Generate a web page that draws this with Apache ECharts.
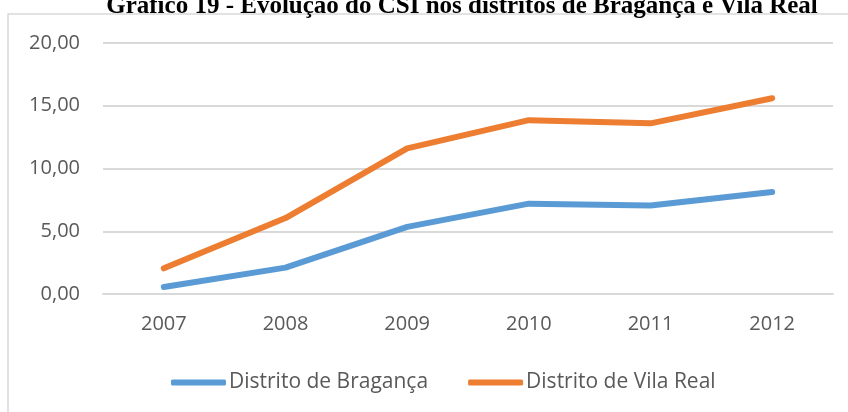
<!DOCTYPE html>
<html>
<head>
<meta charset="utf-8">
<script src="https://cdn.jsdelivr.net/npm/echarts@6/dist/echarts.min.js"></script>
<style>
  html, body { margin: 0; padding: 0; background: #fff; }
  #chart { width: 848px; height: 412px; }
</style>
</head>
<body>
<div id="chart"></div>
<script>
const years = ['2007', '2008', '2009', '2010', '2011', '2012']
const braganca = [0.56, 2.1, 5.35, 7.2, 7.05, 8.13]
const vilaReal = [2.05, 6.05, 11.6, 13.85, 13.6, 15.6]
const seriesNames = ['Distrito de Bragança', 'Distrito de Vila Real']

const chart = echarts.init(document.getElementById('chart'))

const font = '"Open Sans", sans-serif'

chart.setOption({
  animation: false,
  title: {
    text: 'Gráfico 19 - Evolução do CSI nos distritos de Bragança e Vila Real',
    left: 462,
    textAlign: 'center',
    top: -6,
    padding: 0,
    textStyle: { fontFamily: '"Liberation Serif", serif', fontWeight: 'bold', fontSize: 25, color: '#000' }
  },
  graphic: [
    {
      type: 'rect',
      shape: { x: 8, y: 14, width: 860, height: 420 },
      style: { fill: 'none', stroke: '#d9d9d9', lineWidth: 1.5 },
      silent: true,
      z: -1
    }
  ],
  legend: {
    data: seriesNames,
    left: 166,
    top: 367,
    itemWidth: 55,
    itemHeight: 6,
    itemGap: 40,
    icon: 'roundRect',
    textStyle: { fontFamily: font, fontSize: 21, color: '#595959', padding: [0, 0, 0, -2] }
  },
  grid: { left: 103, right: 15, top: 43, bottom: 118 },
  xAxis: {
    type: 'category',
    data: years,
    boundaryGap: true,
    axisLine: { lineStyle: { color: '#d9d9d9', width: 2 } },
    axisTick: { show: false },
    axisLabel: { fontFamily: font, fontSize: 20, color: '#595959', margin: 20 }
  },
  yAxis: {
    type: 'value',
    min: 0,
    max: 20,
    interval: 5,
    axisLine: { show: false },
    axisTick: { show: false },
    splitLine: { lineStyle: { color: '#d9d9d9', width: 2 } },
    axisLabel: {
      fontFamily: font,
      fontSize: 20,
      color: '#595959',
      margin: 23,
      formatter: (v) => v.toFixed(2).replace('.', ',')
    }
  },
  series: [
    {
      name: seriesNames[0],
      type: 'line',
      data: braganca,
      showSymbol: false,
      symbol: 'none',
      itemStyle: { color: '#5B9BD5' },
      lineStyle: { color: '#5B9BD5', width: 6, cap: 'round', join: 'round' }
    },
    {
      name: seriesNames[1],
      type: 'line',
      data: vilaReal,
      showSymbol: false,
      symbol: 'none',
      itemStyle: { color: '#ED7D31' },
      lineStyle: { color: '#ED7D31', width: 6, cap: 'round', join: 'round' }
    }
  ]
})
</script>
</body>
</html>
